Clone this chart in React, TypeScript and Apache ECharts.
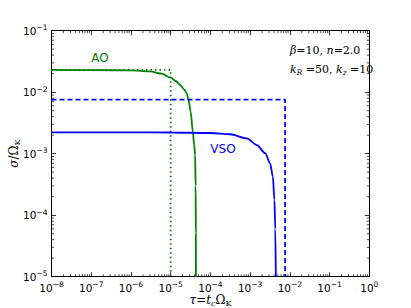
import React, { useEffect, useRef } from "react";
import * as echarts from "echarts";

// ---- data ----
const aoTau = [1e-8, 1e-7, 1e-6, 3e-6, 6e-6, 1e-5, 1.35e-5, 1.73e-5, 2.2e-5, 2.54e-5, 2.79e-5, 3.2e-5, 3.6e-5, 3.9e-5, 4.12e-5, 4.25e-5, 4.3e-5, 4.32e-5];
const aoSigma = [0.023, 0.0229, 0.0226, 0.0218, 0.02, 0.0172, 0.0152, 0.0131, 0.011, 0.0096, 0.0076, 0.0048, 0.00228, 0.0014, 0.00096, 0.0003, 0.00005, 0.00001];

const vsoTau = [1e-8, 1e-6, 1e-5, 1e-4, 3.13e-4, 8.26e-4, 1.48e-3, 2.39e-3, 3.19e-3, 3.73e-3, 4.09e-3, 4.3e-3, 4.44e-3];
const vsoSigma = [0.00222, 0.00222, 0.00221, 0.00217, 0.00207, 0.00178, 0.00138, 0.00102, 0.000698, 0.000423, 0.000177, 0.00006, 0.00001];

const aoLimitTau = [1e-8, 1e-5, 1e-5];
const aoLimitSigma = [0.023, 0.023, 0.00001];

const vsoLimitTau = [1e-8, 0.0076, 0.0076];
const vsoLimitSigma = [0.0076, 0.0076, 0.00001];

const xMin = 1e-8, xMax = 1;
const yMin = 1e-5, yMax = 0.1;
const xDecades = [-8, -7, -6, -5, -4, -3, -2, -1];
const yDecades = [-5, -4, -3, -2];
const minorMultipliers = [2, 3, 4, 5, 6, 7, 8, 9];

const xMinor: number[] = [];
xDecades.forEach((d) => minorMultipliers.forEach((m) => xMinor.push(m * Math.pow(10, d))));
const yMinor: number[] = [];
yDecades.forEach((d) => minorMultipliers.forEach((m) => yMinor.push(m * Math.pow(10, d))));

const GREEN = "#008000";
const BLUE = "#0000ff";

const pair = (xs: number[], ys: number[]) => xs.map((x, i) => [x, ys[i]]);

const tickFormatter = (v: number) => {
  const e = Math.round(Math.log10(v));
  return `{b|10}{s|${e < 0 ? "\u2212" : ""}${Math.abs(e)}}`;
};

const tickRich = {
  b: { fontSize: 10.5, fontFamily: "DejaVu Sans", color: "#000", lineHeight: 14 },
  s: { fontSize: 7.5, fontFamily: "DejaVu Sans", color: "#000", verticalAlign: "top", lineHeight: 8 },
};

export default function App() {
  const ref = useRef<HTMLDivElement>(null);
  useEffect(() => {
    if (!ref.current) return;
    const chart = echarts.init(ref.current, null, { renderer: "svg" });
    const axisLine = { show: true, onZero: false, lineStyle: { color: "#000", width: 1 } };
    const majorTick = { show: true, inside: true, length: 4.5, lineStyle: { color: "#000", width: 0.8 } };
    const gridOpt = { left: 51.5, right: 41.7, top: 30.7, bottom: 31.3 };

    const minorTickSeriesX = {
      type: "custom",
      xAxisIndex: 0,
      yAxisIndex: 0,
      silent: true,
      clip: false,
      data: xMinor.map((v) => [v, yMin]),
      renderItem: (_p: any, api: any) => {
        const v = api.value(0);
        const b = api.coord([v, yMin]);
        const t = api.coord([v, yMax]);
        return {
          type: "group",
          children: [
            { type: "line", shape: { x1: b[0], y1: b[1], x2: b[0], y2: b[1] - 2.5 }, style: { stroke: "#000", lineWidth: 0.7 } },
            { type: "line", shape: { x1: t[0], y1: t[1], x2: t[0], y2: t[1] + 2.5 }, style: { stroke: "#000", lineWidth: 0.7 } },
          ],
        };
      },
    };
    const minorTickSeriesY = {
      type: "custom",
      xAxisIndex: 0,
      yAxisIndex: 0,
      silent: true,
      clip: false,
      data: yMinor.map((v) => [xMin, v]),
      renderItem: (_p: any, api: any) => {
        const v = api.value(1);
        const l = api.coord([xMin, v]);
        const r = api.coord([xMax, v]);
        return {
          type: "group",
          children: [
            { type: "line", shape: { x1: l[0], y1: l[1], x2: l[0] + 2.5, y2: l[1] }, style: { stroke: "#000", lineWidth: 0.7 } },
            { type: "line", shape: { x1: r[0], y1: r[1], x2: r[0] - 2.5, y2: r[1] }, style: { stroke: "#000", lineWidth: 0.7 } },
          ],
        };
      },
    };

    chart.setOption({
      animation: false,
      backgroundColor: "#fff",
      grid: gridOpt,
      xAxis: [
        {
          type: "log", logBase: 10, min: xMin, max: xMax, splitNumber: 8, position: "bottom",
          axisLine, axisTick: majorTick, splitLine: { show: false },
          axisLabel: { show: true, margin: 4, formatter: tickFormatter, rich: tickRich },
        },
        {
          type: "log", logBase: 10, min: xMin, max: xMax, splitNumber: 8, position: "top",
          axisLine, axisTick: majorTick, splitLine: { show: false }, axisLabel: { show: false },
        },
      ],
      yAxis: [
        {
          type: "log", logBase: 10, min: yMin, max: yMax, splitNumber: 4, position: "left",
          axisLine, axisTick: majorTick, splitLine: { show: false },
          axisLabel: { show: true, margin: 4, formatter: tickFormatter, rich: tickRich },
        },
        {
          type: "log", logBase: 10, min: yMin, max: yMax, splitNumber: 4, position: "right",
          axisLine, axisTick: majorTick, splitLine: { show: false }, axisLabel: { show: false },
        },
      ],
      series: [
        {
          type: "line", name: "AO", data: pair(aoTau, aoSigma), showSymbol: false, smooth: 0.3, smoothMonotone: "x",
          lineStyle: { color: GREEN, width: 1.8 }, itemStyle: { color: GREEN },
        },
        {
          type: "line", name: "AO limit", data: pair(aoLimitTau, aoLimitSigma), showSymbol: false,
          lineStyle: { color: GREEN, width: 1.8, type: [1.5, 3] }, itemStyle: { color: GREEN },
        },
        {
          type: "line", name: "VSO", data: pair(vsoTau, vsoSigma), showSymbol: false, smooth: 0.3, smoothMonotone: "x",
          lineStyle: { color: BLUE, width: 1.8 }, itemStyle: { color: BLUE },
        },
        {
          type: "line", name: "VSO limit", data: pair(vsoLimitTau, vsoLimitSigma), showSymbol: false,
          lineStyle: { color: BLUE, width: 1.8, type: [5, 3] }, itemStyle: { color: BLUE },
        },
        minorTickSeriesX,
        minorTickSeriesY,
      ],
      graphic: [
        {
          type: "text", x: 100, y: 58,
          style: { text: "AO", fill: GREEN, font: "12px 'DejaVu Sans'", textAlign: "center", textVerticalAlign: "middle" },
        },
        {
          type: "text", x: 223, y: 149,
          style: { text: "VSO", fill: BLUE, font: "12px 'DejaVu Sans'", textAlign: "center", textVerticalAlign: "middle" },
        },
        {
          type: "text", x: 290, y: 50,
          style: {
            text: "{i|β}{r|=10, }{i|n}{r|=2.0}",
            textAlign: "left", textVerticalAlign: "middle",
            rich: {
              i: { fontFamily: "DejaVu Serif", fontStyle: "italic", fontSize: 11, fill: "#000", lineHeight: 14 },
              r: { fontFamily: "DejaVu Serif", fontSize: 11, fill: "#000", lineHeight: 14 },
            },
          },
        },
        {
          type: "text", x: 290, y: 69,
          style: {
            text: "{i|k}{sub|R}{r| =50, }{i|k}{sub|z}{r| =10}",
            textAlign: "left", textVerticalAlign: "middle",
            rich: {
              i: { fontFamily: "DejaVu Serif", fontStyle: "italic", fontSize: 11, fill: "#000", lineHeight: 14 },
              sub: { fontFamily: "DejaVu Serif", fontStyle: "italic", fontSize: 7.5, fill: "#000", verticalAlign: "bottom", lineHeight: 8 },
              r: { fontFamily: "DejaVu Serif", fontSize: 11, fill: "#000", lineHeight: 14 },
            },
          },
        },
        {
          type: "text", x: 210.5, y: 300,
          style: {
            text: "{i|τ}{r|=}{i|t}{sub|c}{r|Ω}{subr|K}",
            textAlign: "center", textVerticalAlign: "middle",
            rich: {
              i: { fontFamily: "DejaVu Serif", fontStyle: "italic", fontSize: 12, fill: "#000", lineHeight: 15 },
              r: { fontFamily: "DejaVu Serif", fontSize: 12, fill: "#000", lineHeight: 15 },
              sub: { fontFamily: "DejaVu Serif", fontStyle: "italic", fontSize: 8, fill: "#000", verticalAlign: "bottom", lineHeight: 8 },
              subr: { fontFamily: "DejaVu Serif", fontSize: 8, fill: "#000", verticalAlign: "bottom", lineHeight: 8 },
            },
          },
        },
        {
          type: "text", x: 14, y: 153.7, rotation: Math.PI / 2,
          style: {
            text: "{i|σ}{r|/Ω}{subr|K}",
            textAlign: "center", textVerticalAlign: "middle",
            rich: {
              i: { fontFamily: "DejaVu Serif", fontStyle: "italic", fontSize: 12, fill: "#000", lineHeight: 15 },
              r: { fontFamily: "DejaVu Serif", fontSize: 12, fill: "#000", lineHeight: 15 },
              subr: { fontFamily: "DejaVu Serif", fontSize: 8, fill: "#000", verticalAlign: "bottom", lineHeight: 8 },
            },
          },
        },
      ],
    });
    return () => chart.dispose();
  }, []);
  return <div ref={ref} style={{ position: "fixed", left: 0, top: 0, width: 411, height: 308 }} />;
}
